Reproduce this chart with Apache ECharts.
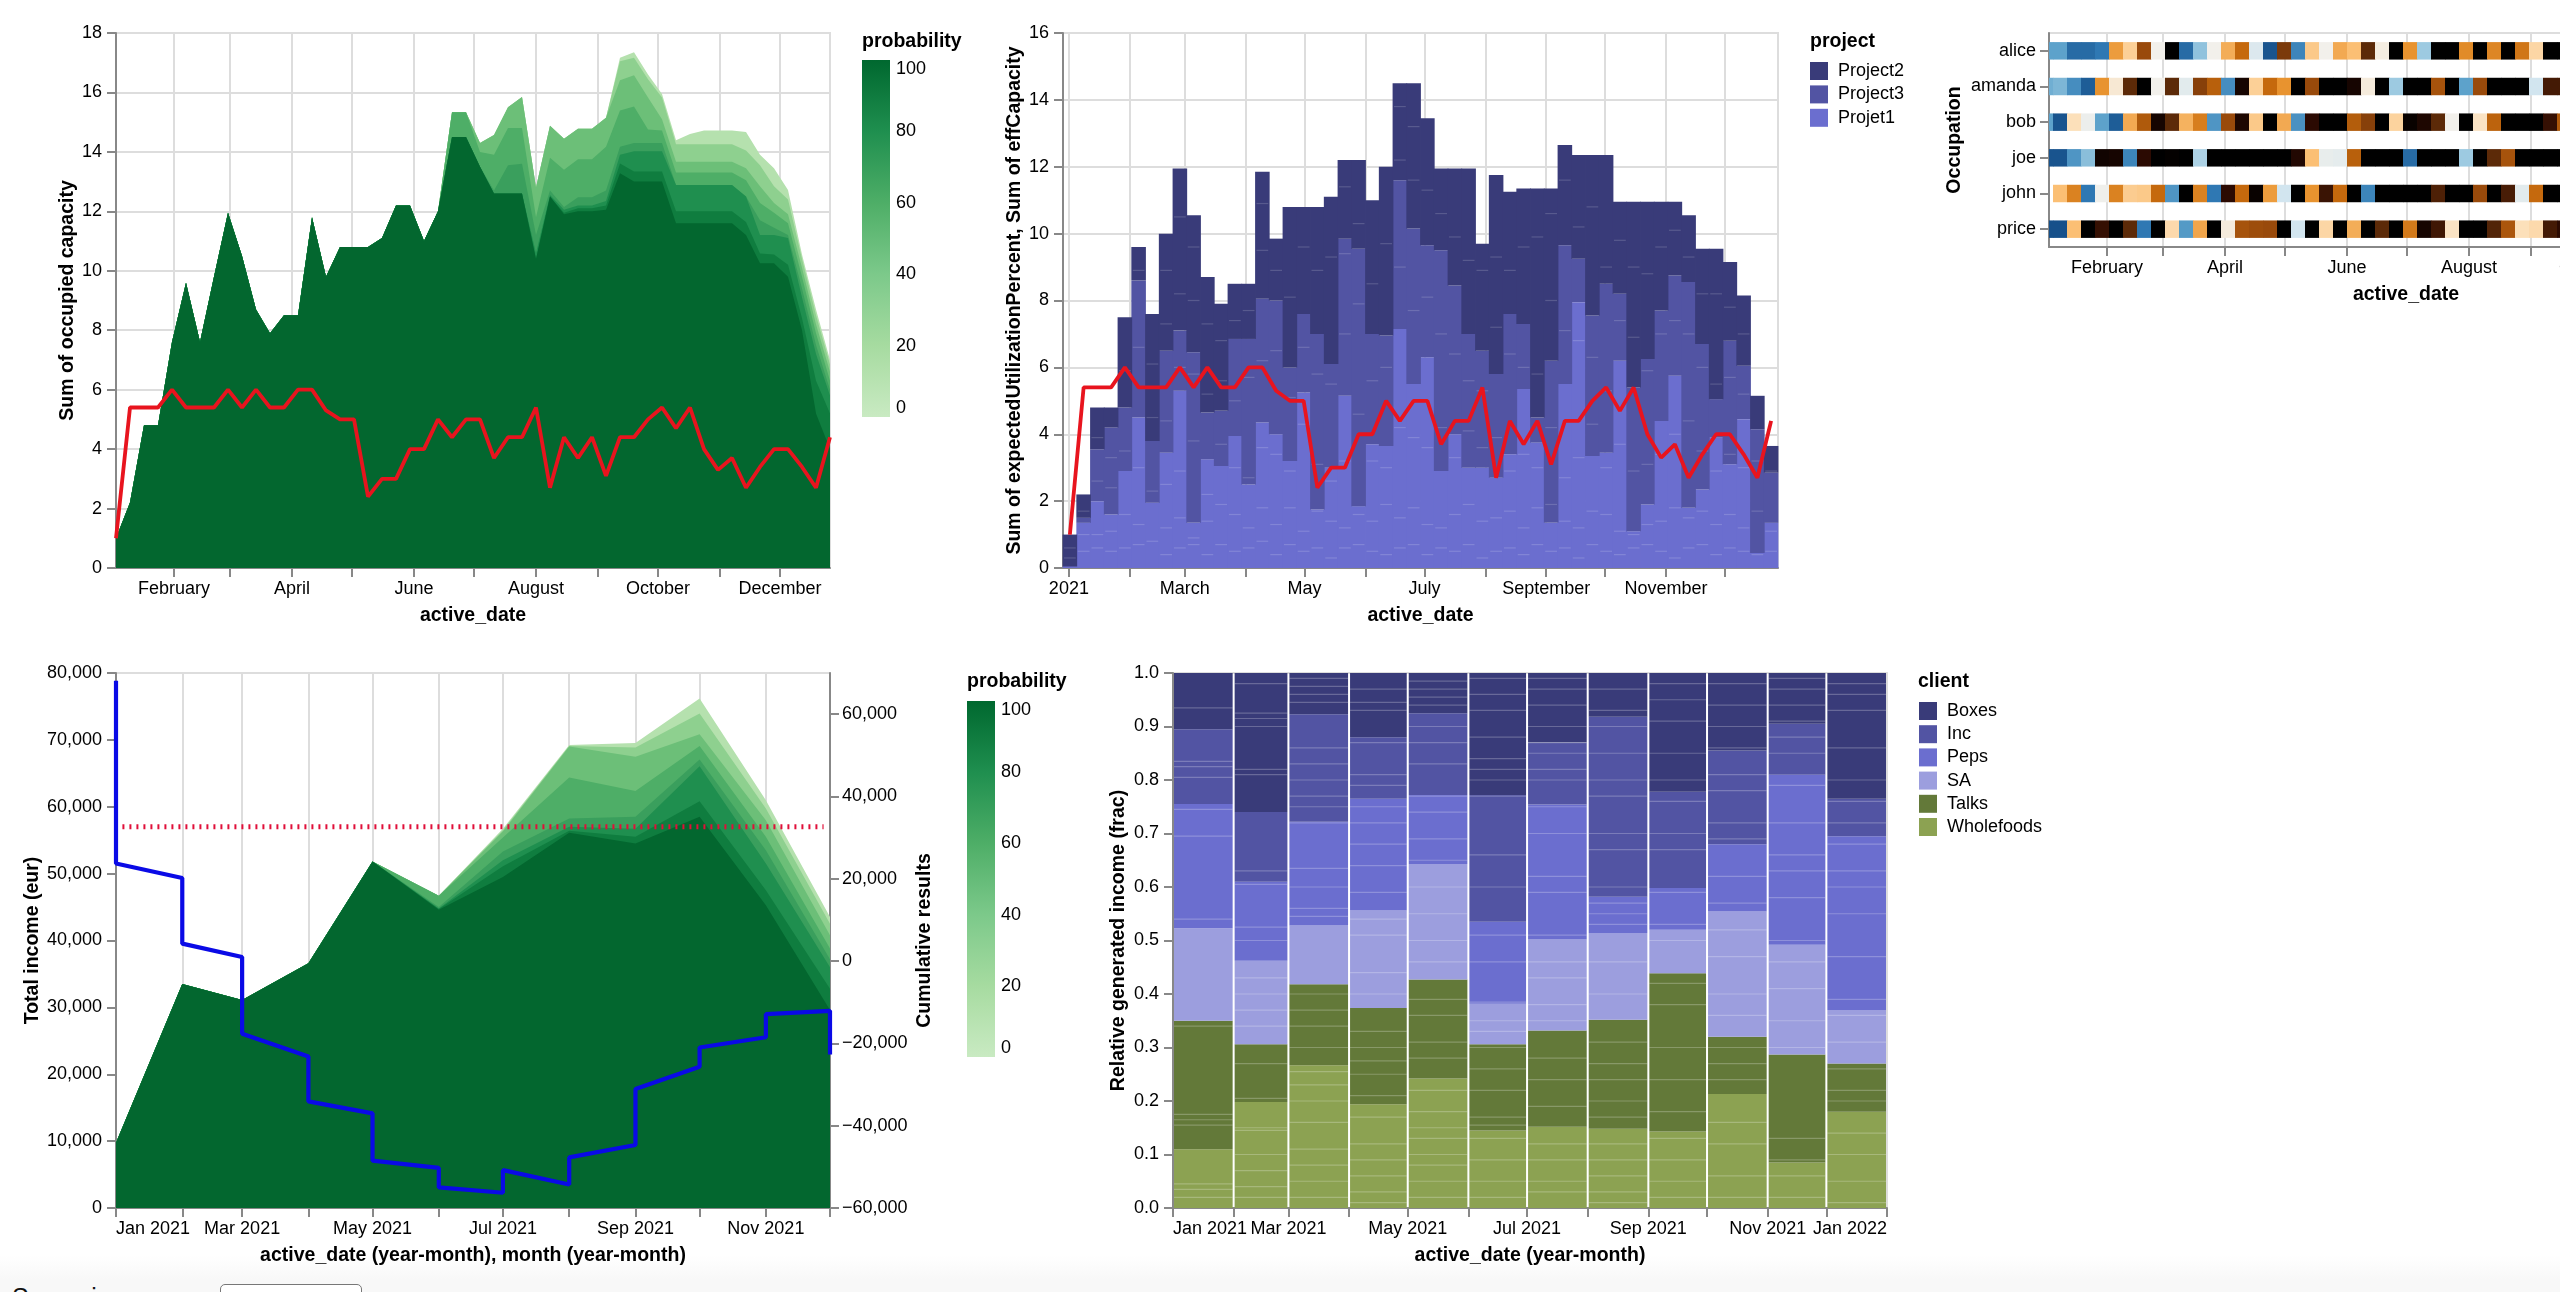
<!DOCTYPE html>
<html>
<head>
<meta charset="UTF-8">
<title>capacity dashboard</title>
<script src="https://cdn.jsdelivr.net/npm/echarts@6/dist/echarts.min.js"></script>
<style>
    html, body { margin: 0; background: #fff; overflow: hidden; font-family: "Liberation Sans", sans-serif; }
    #main { position: absolute; left: 0; top: 0; width: 2560px; height: 1292px; }
    #footer { position: absolute; left: 0; top: 1255px; width: 2560px; height: 37px; overflow: hidden;
        background: linear-gradient(#fff, #f8f8f8 24px); }
    #footer span { position: absolute; left: 12px; top: 28px; font-size: 25px; color: #111; }
    #footer div { position: absolute; left: 220px; top: 29px; width: 140px; height: 40px; border: 1.5px solid #777;
        border-radius: 5px; background: #fff; font-size: 23px; line-height: 40px; text-indent: 12px; }
</style>
</head>
<body>
<div id="footer"><span>Scenario name:</span><div>Confirmed</div></div>
<div id="main"></div>
<script>
// weekly sums
var redLine = [1.0,5.4,5.4,5.4,6.0,5.4,5.4,5.4,6.0,5.4,6.0,5.4,5.4,6.0,6.0,5.3,5.0,5.0,2.4,3.0,3.0,4.0,4.0,5.0,4.4,5.0,5.0,3.7,4.4,4.4,5.4,2.7,4.4,3.7,4.4,3.1,4.4,4.4,5.0,5.4,4.7,5.4,4.0,3.3,3.7,2.7,3.4,4.0,4.0,3.4,2.7,4.4];

// occupied capacity: shared first 24 weeks, then one tail per probability layer
var occHead = [1.0,2.2,4.8,4.8,7.6,9.6,7.6,9.8,11.95,10.5,8.7,7.9,8.5,8.5,11.8,9.8,10.8,10.8,10.8,11.1,12.2,12.2,11.0,12.0];
var occB1 = [15.33,15.33,14.3,14.57,15.5,15.85,12.8,14.88,14.44,14.78,14.78,15.15,17.17,17.35,16.6,15.95,14.39,14.6,14.72,14.72,14.72,14.67,13.9,13.45,12.72,10.55,8.7,7.0];
var occB2 = [15.33,15.33,14.3,14.57,15.5,15.85,12.8,14.88,14.44,14.78,14.78,15.15,17.05,17.17,16.44,15.83,14.26,14.26,14.26,14.26,14.26,14.05,13.55,12.84,12.4,10.4,8.5,6.85];
var occB3 = [15.33,15.33,14.3,14.57,15.5,15.85,12.8,14.88,14.44,14.78,14.78,15.15,16.41,16.58,15.83,15.1,13.67,13.67,13.67,13.67,13.67,13.45,12.84,12.28,11.9,10.1,8.2,6.6];
var occB4 = [15.33,15.33,14.0,13.9,14.8,14.8,11.8,13.8,13.4,13.75,13.75,14.17,15.39,15.53,14.75,14.72,13.31,13.31,13.31,13.31,13.31,13.05,12.28,11.95,11.6,9.8,7.9,6.3];
var occB5 = [14.5,14.5,13.5,12.7,13.55,13.6,11.2,12.7,12.15,12.47,12.47,12.7,14.17,14.3,14.3,14.3,12.89,12.89,12.89,12.89,12.89,12.5,11.7,11.45,11.2,9.4,7.5,6.0];
var occB6 = [14.5,14.5,13.5,12.6,12.6,12.6,10.6,12.55,12.05,12.2,12.2,12.35,13.9,14.02,14.02,14.02,12.89,12.89,12.89,12.89,12.89,12.5,11.2,11.2,11.1,9.1,7.2,5.8];
var occB7 = [14.5,14.5,13.5,12.6,12.6,12.6,10.4,12.5,11.95,12.1,12.1,12.2,13.61,13.34,13.34,13.34,12.0,12.0,12.0,12.0,12.0,11.64,10.58,10.55,10.2,8.4,6.3,5.2];
var occB8 = [14.5,14.5,13.5,12.6,12.6,12.6,10.4,12.5,11.9,12.0,12.0,12.05,13.28,13.0,13.0,13.0,11.6,11.6,11.6,11.6,11.6,11.2,10.25,10.25,9.8,8.0,5.2,4.0];

// income per month, one array per probability layer
var incomeHead = [9750,33500,31100,36600,51800];
var incB1 = [46700,56700,69250,69550,76170,60980,43500];
var incB2 = [46700,56500,69100,68850,73940,59730,42500];
var incB3 = [46700,56300,69000,67460,70850,58000,40800];
var incB4 = [46700,55400,64380,62370,69100,55500,38800];
var incB5 = [45000,53300,58250,58490,67060,53500,37200];
var incB6 = [44800,52000,57000,56700,66060,51500,36000];
var incB7 = [44700,51100,56400,55500,60830,47500,32800];
var incB8 = [44600,49500,56100,54500,58490,45280,29600];
var budgetRule = 57000;
// cumulative result: value where each month starts and ends
var cumulStart = [68100,20200,1000,-23200,-37000,-50250,-56300,-54300,-44700,-25700,-18500,-12100];
var cumulEnd = [23700,4240,-17660,-34100,-48500,-55000,-50800,-47700,-31100,-21000,-12900,-22700];

// stacked weekly totals for the second chart (tops of each project)
var weekTotal = [1.0,2.2,4.8,4.8,7.5,9.6,7.6,10.0,11.95,10.55,8.7,7.9,8.5,8.5,11.85,9.85,10.8,10.8,10.8,11.1,12.2,12.2,11.0,12.0,14.5,14.5,13.45,11.95,11.95,11.95,9.7,11.75,11.25,11.35,11.35,11.35,12.65,12.35,12.35,12.35,10.95,10.95,10.95,10.95,10.95,10.55,9.55,9.55,9.15,8.15,5.15,3.65];
var weekTopMid = [0.06,1.5,3.55,4.2,4.8,8.6,3.8,6.5,7.1,6.45,4.65,4.7,6.85,6.85,8.05,8.0,6.0,7.6,7.0,6.1,9.85,9.55,7.0,6.95,11.6,10.15,9.65,9.5,8.45,7.0,6.5,5.8,7.6,7.3,4.5,6.2,9.65,9.25,7.55,8.5,8.2,5.4,6.25,7.7,8.75,8.55,6.7,5.05,6.8,6.05,4.15,2.85];
var weekTopLight = [0.03,1.35,2.0,1.6,2.9,4.5,1.95,3.45,5.3,1.35,3.25,3.05,3.95,2.5,4.35,4.0,3.2,5.25,1.75,3.0,5.15,1.85,3.7,3.65,7.15,5.5,6.3,2.9,4.0,3.0,3.0,2.7,3.4,5.35,3.75,1.35,5.5,7.95,3.35,3.45,6.2,1.1,1.9,4.4,5.75,1.8,2.35,3.9,3.1,4.45,0.45,1.35];
// faint seams between the small stacked rows
var weekSeams = [[.3,.6],[.5,1.0,1.7],[.6,1.0,2.6,3.9],[.5,1.1,2.4,3.3],[.6,1.6,3.5,5.9],[.7,1.3,3.0,6.6,8.9],[.8,2.3,4.5,6.1],[.4,1.2,2.5,4.4,7.3,8.9],[.6,1.5,2.9,6.0,8.2,10.5],[.7,.9,3.8,5.8,8.0,9.6],[.4,1.4,2.2,5.2,7.3],[.7,1.9,3.7,5.6,6.8],[.5,1.6,3.0,5.0,7.4],[.6,1.2,2.7,5.7,7.7],[.8,1.8,3.6,6.2,9.5,10.9],[.4,1.3,3.4,6.5,8.9],[.7,1.8,2.9,5.1,8.1],[.5,1.1,4.3,6.6,9.6],[.6,1.7,3.1,5.8,8.9],[.3,1.4,2.6,5.5,9.3],[.6,1.2,3.2,7.0,9.4,11.4],[.7,1.6,4.6,7.9,10.3],[.5,1.4,3.2,5.6,8.5],[.4,1.9,3.0,6.0,9.7],[.6,1.5,4.2,9.0,12.2,13.8],[.7,1.8,3.9,7.7,11.6,13.2],[.4,1.3,3.6,8.1,11.3],[.6,1.2,4.2,7.0,10.6],[.5,1.6,3.3,6.4,9.9],[.7,1.9,4.1,5.6,9.2],[.3,1.4,3.6,5.3,8.9],[.5,1.5,3.9,7.2,9.3],[.6,1.7,2.9,6.4,8.9],[.4,1.2,3.4,6.0,9.6],[.7,1.8,3.0,5.8,9.9],[.5,1.9,4.2,8.0,10.6],[.6,1.4,2.7,7.1,11.6],[.3,1.2,3.3,6.8,10.2],[.7,1.7,4.3,6.3,10.8],[.5,1.6,3.0,5.3,9.0],[.4,1.1,3.7,7.4,9.8],[.6,1.0,2.9,6.9,9.0],[.7,1.3,3.1,5.9,8.8],[.5,1.4,3.4,7.0,9.6],[.3,1.8,4.0,7.4,10.1],[.6,1.5,4.4,7.0,9.3],[.7,1.7,3.5,6.0,8.2],[.4,1.3,2.9,5.5,8.2],[.6,1.6,3.4,5.7,7.8],[.5,1.2,3.0,5.2,7.0],[.4,1.7,3.2],[.5,1.1,2.9]];

// occupation cells, colour level per week (the row runs on past the page edge)
var occupations = ['alice','amanda','bob','joe','john','price'];
var cellsAlice = [2,2,.7,.7,1,7.8,6.5,10,5,13,.7,2.8,5,7.4,9,4.3,.2,10.5,1.3,6.7,5,7.5,7,11,5.2,13,8,3,13,13,8.2,13,8.3,13,8.7,6.3,13,13];
var cellsAmanda = [2.3,2.5,1.5,.4,8,5.5,11,13,5,11,4.5,10.3,9.3,1.5,12.5,6.5,9,8,13,10,13,13,12.5,5.3,13,3,13,13,9.7,13,2,10,13,13,13,4,11.5,11.5];
var cellsBob = [2,.2,6,4.8,2,.4,7.5,9.5,12.5,11,7.3,8.5,1.7,10,12.3,6.7,13,7.5,1.6,12,13,13,9.4,10.3,13,6.4,12.8,12.3,11,5,13,5.8,9.2,13,13,13,11.8,9.5];
var cellsJoe = [.2,.2,1.7,2.7,12.6,12.5,1.3,12,13,12.9,13,3.3,13,13,13,13,13,13,12.2,7,4.7,4.6,9.3,13,13,13,.7,13,13,13,3,13,11,9.7,13,13,13,13];
var cellsJohn = [null,7,8.4,1,4.9,8.4,6.6,6.7,9,1.7,13,8.4,1,12,9,12.8,7.8,4,13,8,11.7,9,13,1.3,13,13,13,13,11.3,13,13,10,13,11.4,4.5,9,13,13];
var cellsPrice = [.1,.1,7,13,11.8,13,11,1,13,6.2,1.8,7.6,13,5.3,9.7,9.9,10,13,4,13,6.3,13,7.4,13,11,13,8.6,12.5,11.6,5.8,13,13,11.2,9.6,6,6.2,11.5,12];
var cellColors = ['#134b85','#2f78b3','#5da2cb','#9dcae1','#d2e5ef','#f2f0eb','#fce0ba','#fbbf74','#e8932f','#c5690d','#994a0b','#5c2a08','#2b0a02','#000000'];

// generated income per month: top of each client
var clientNames = ['Wholefoods','Talks','SA','Peps','Inc','Boxes'];
var clientColors = ['#8ca252','#637939','#9c9ede','#6b6ecf','#5254a3','#393b79'];
var topWholefoods = [.11,.198,.267,.194,.242,.145,.152,.148,.143,.213,.085,.18];
var topTalks = [.35,.306,.418,.374,.427,.306,.332,.352,.439,.32,.287,.27];
var topSA = [.523,.462,.528,.556,.643,.382,.502,.514,.52,.554,.492,.37];
var topPeps = [.755,.61,.722,.765,.772,.535,.754,.582,.598,.68,.81,.695];
var topInc = [.895,.74,.923,.88,.925,.772,.87,.918,.778,.855,.905,.765];
var monthSeams = [
    [.02,.035,.045,.155,.165,.175,.34,.54,.695,.745,.805,.825,.835,.935],
    [.02,.04,.07,.1,.145,.15,.205,.27,.34,.37,.4,.43,.5,.525,.605,.63,.81,.82,.9,.915,.925,.98],
    [.02,.05,.08,.11,.16,.2,.23,.255,.3,.34,.37,.4,.545,.56,.6,.635,.72,.75,.77,.8,.83,.86,.945,.96,.975,.99],
    [.01,.03,.06,.09,.12,.17,.21,.25,.275,.3,.33,.4,.44,.51,.54,.59,.64,.68,.72,.75,.79,.81,.87,.93,.945,.97],
    [.02,.05,.08,.1,.13,.15,.18,.22,.28,.31,.36,.39,.46,.5,.55,.6,.65,.69,.74,.77,.83,.87,.9,.94,.955,.97,.985],
    [.02,.05,.09,.13,.155,.17,.22,.26,.3,.33,.35,.385,.46,.51,.6,.66,.77,.8,.82,.84,.88,.93,.96,.99],
    [.03,.05,.09,.12,.19,.24,.28,.35,.38,.43,.46,.51,.59,.62,.7,.75,.8,.82,.85,.87,.9,.94,.97,.99],
    [.01,.03,.06,.09,.12,.17,.2,.24,.27,.31,.4,.46,.53,.55,.57,.6,.67,.7,.77,.8,.85,.9,.93,.97],
    [.02,.05,.09,.13,.18,.24,.3,.38,.42,.5,.53,.59,.67,.7,.76,.8,.85,.91,.95,.98],
    [.02,.06,.12,.16,.24,.27,.3,.36,.4,.47,.52,.57,.62,.69,.72,.78,.81,.86,.9,.94,.98],
    [.02,.06,.09,.13,.3,.35,.41,.46,.5,.58,.63,.66,.72,.79,.85,.88,.91,.94,.97,.99],
    [.01,.05,.1,.14,.2,.22,.26,.31,.36,.39,.47,.55,.6,.63,.68,.72,.76,.8,.86,.93,.96,.98]
];

var monthNames = ['January','February','March','April','May','June','July','August','September','October','November','December'];
var monthShort = ['Jan','Feb','Mar','Apr','May','Jun','Jul','Aug','Sep','Oct','Nov','Dec'];
var legendTicks = [0,20,40,60,80,100];
var layerColors = ['#b5e1ae','#8ed08f','#6cbf78','#4eae67','#3a9f5d','#1f8f4f','#0f7d3f','#03672f'];

var FONT = '"Liberation Sans", Arial, sans-serif';
var DAY = 864e5;
var weekStart = Date.UTC(2021, 0, 3);
var barStart = Date.UTC(2020, 11, 29);
var cellStart = Date.UTC(2020, 11, 29);

function month(m) { return Date.UTC(2021, m, 1); }
function range(a, b) { var r = []; for (var i = a; i <= b; i++) r.push(month(i)); return r; }
var axisGrey = { color: '#888', width: 2 };

function labelStyle() { return { fontFamily: FONT, fontSize: 18, color: '#000' }; }
function nameStyle() { return { fontFamily: FONT, fontSize: 19.5, fontWeight: 'bold', color: '#000' }; }

// dates are kept as ms on a value axis, month ticks come from customValues
function timeAxis(grid, min, max, name, ticks, labels, fmt, extra) {
    return Object.assign({
        type: 'value', gridIndex: grid, min: min, max: max, name: name, nameLocation: 'middle', nameGap: 38,
        nameTextStyle: nameStyle(),
        axisLine: { show: true, onZero: false, lineStyle: axisGrey },
        axisTick: { show: true, length: 9, lineStyle: axisGrey, customValues: ticks },
        axisLabel: Object.assign(labelStyle(), { margin: 12, customValues: labels, formatter: fmt, hideOverlap: false }),
        splitLine: { show: true, lineStyle: { color: '#ddd', width: 2 } }
    }, extra || {});
}
function valAxis(grid, min, max, interval, name, gap, extra) {
    return Object.assign({
        type: 'value', gridIndex: grid, min: min, max: max, interval: interval, name: name, nameLocation: 'middle', nameGap: gap,
        nameTextStyle: nameStyle(),
        axisLine: { show: true, onZero: false, lineStyle: axisGrey },
        axisTick: { show: true, length: 9, lineStyle: axisGrey },
        axisLabel: Object.assign(labelStyle(), { margin: 14 }),
        splitLine: { show: true, lineStyle: { color: '#ddd', width: 2 } }
    }, extra || {});
}
function legendAxisY(grid) {
    return {
        type: 'value', gridIndex: grid, min: legendTicks[0], max: legendTicks[legendTicks.length - 1], interval: 20, position: 'right',
        axisLine: { show: false }, axisTick: { show: false }, splitLine: { show: false },
        axisLabel: Object.assign(labelStyle(), { margin: 6, verticalAlignMinLabel: 'bottom', verticalAlignMaxLabel: 'top' })
    };
}
function legendAxisX(grid) { return { type: 'category', gridIndex: grid, data: ['p'], show: false }; }
function legendBar(ax) {
    return {
        type: 'bar', xAxisIndex: ax.x, yAxisIndex: ax.y, data: [100], barWidth: '100%', silent: true,
        itemStyle: { color: new echarts.graphic.LinearGradient(0, 0, 0, 1, [
            { offset: 0, color: '#00682f' }, { offset: .2, color: '#1f8f4f' }, { offset: .4, color: '#4eae67' },
            { offset: .6, color: '#7cc98a' }, { offset: .8, color: '#a6dba0' }, { offset: 1, color: '#c9eac2' }]) }
    };
}
function areaLayer(ax, points, color) {
    return {
        type: 'line', xAxisIndex: ax, yAxisIndex: ax === 3 ? 3 : 0, data: points, showSymbol: false, symbol: 'none', silent: true,
        lineStyle: { width: 0 }, areaStyle: { color: color, opacity: 1 }
    };
}
// one stacked block per time span: [start, end, low, high]
function spanSeries(name, ax, yAx, data, color, gap) {
    return {
        name: name, type: 'custom', xAxisIndex: ax, yAxisIndex: yAx, data: data, silent: true, z: 2,
        itemStyle: { color: color }, encode: { x: [0, 1], y: [2, 3] },
        renderItem: function (params, api) {
            var a = api.coord([api.value(0), api.value(3)]);
            var b = api.coord([api.value(1), api.value(2)]);
            return { type: 'rect', shape: { x: a[0] + gap, y: a[1], width: b[0] - a[0] - 2 * gap, height: b[1] - a[1] }, style: { fill: color } };
        }
    };
}

var weeks = redLine.map(function (v, i) { return weekStart + i * 7 * DAY; });
var barMids = redLine.map(function (v, i) { return barStart + (i + .5) * 7 * DAY; });
var incomeMonths = range(0, 11);

var occLayers = [occB1, occB2, occB3, occB4, occB5, occB6, occB7, occB8].map(function (tail, i) {
    var pts = occHead.concat(tail).map(function (v, k) { return [weeks[k], v]; });
    return areaLayer(0, pts, layerColors[i]);
});
var incLayers = [incB1, incB2, incB3, incB4, incB5, incB6, incB7, incB8].map(function (tail, i) {
    var pts = incomeHead.concat(tail).map(function (v, k) { return [incomeMonths[k], v]; });
    return areaLayer(3, pts, layerColors[i]);
});

function weekSpans(lows, highs) {
    return highs.map(function (v, i) { return [barStart + i * 7 * DAY, barStart + (i + 1) * 7 * DAY, lows ? lows[i] : 0, v]; });
}
// slight overlap so no light seam shows between neighbouring weeks
var projectSeries = [
    spanSeries('Projet1', 1, 1, weekSpans(null, weekTopLight), '#6b6ecf', -.4),
    spanSeries('Project3', 1, 1, weekSpans(weekTopLight, weekTopMid), '#5254a3', -.4),
    spanSeries('Project2', 1, 1, weekSpans(weekTopMid, weekTotal), '#393b79', -.4)
];

var weekSeamData = [];
weekSeams.forEach(function (list, k) {
    list.forEach(function (v) { if (v < weekTotal[k]) weekSeamData.push([barMids[k] - 3.5 * DAY, barMids[k] + 3.5 * DAY, v]); });
});
var monthSeamData = [];
monthSeams.forEach(function (list, m) {
    list.forEach(function (v) { monthSeamData.push([month(m), month(m + 1), v]); });
});

function seamSeries(ax, yAx, data, alpha) {
    return { type: 'custom', xAxisIndex: ax, yAxisIndex: yAx, data: data, silent: true, z: 3, encode: { x: [0, 1], y: 2 },
        renderItem: function (params, api) {
            var a = api.coord([api.value(0), api.value(2)]);
            var b = api.coord([api.value(1), api.value(2)]);
            return { type: 'rect', shape: { x: a[0] + 1, y: a[1] - .6, width: b[0] - a[0] - 2, height: 1.2 },
                style: { fill: 'rgba(255,255,255,' + alpha + ')' }, silent: true };
        } };
}

// monthly client rects
var clientTops = [topWholefoods, topTalks, topSA, topPeps, topInc, topInc.map(function () { return 1; })];
var clientSeries = clientNames.map(function (name, c) {
    var data = clientTops[c].map(function (top, m) { return [month(m), month(m + 1), c ? clientTops[c - 1][m] : 0, top]; });
    return spanSeries(name, 4, 5, data, clientColors[c], 1);
});

// occupation heat cells
var cellRows = [cellsAlice, cellsAmanda, cellsBob, cellsJoe, cellsJohn, cellsPrice];
var cellData = [];
cellRows.forEach(function (row, r) {
    row.forEach(function (v, k) {
        if (v !== null) cellData.push([cellStart + k * 7 * DAY, cellStart + (k + 1) * 7 * DAY, r, v]);
    });
});
var cellSeries = {
    type: 'custom', xAxisIndex: 2, yAxisIndex: 2, data: cellData, silent: true, encode: { x: [0, 1], y: 2 },
    renderItem: function (params, api) {
        var a = api.coord([api.value(0), api.value(2)]);
        var b = api.coord([api.value(1), api.value(2)]);
        var h = api.size([0, 1])[1] * .49;
        var rect = echarts.graphic.clipRectByRect({ x: a[0], y: a[1] - h / 2, width: b[0] - a[0] + .4, height: h }, params.coordSys);
        return rect && { type: 'rect', shape: rect, style: { fill: api.visual('color') } };
    }
};

// cumulative result path
var cumulPath = [];
incomeMonths.forEach(function (m, i) {
    cumulPath.push([m, cumulStart[i]]);
    cumulPath.push([m, cumulEnd[i]]);
});

var occTicks = range(1, 11);
var occLabels = [1, 3, 5, 7, 9, 11].map(month);
var shortLabel = function (v) { var d = new Date(v); return monthShort[d.getUTCMonth()] + ' ' + d.getUTCFullYear(); };
var longLabel = function (v) { return monthNames[new Date(v).getUTCMonth()]; };
var yearFirst = function (v) { var d = new Date(v); return d.getUTCMonth() === 0 ? String(d.getUTCFullYear()) : monthNames[d.getUTCMonth()]; };
var rightTicks = [-60000, -40000, -20000, 0, 20000, 40000, 60000];

var allSeries = [].concat(
    occLayers,
    [{ type: 'line', xAxisIndex: 0, yAxisIndex: 0, data: redLine.map(function (v, i) { return [weeks[i], v]; }), symbol: 'none', silent: true, lineStyle: { color: '#e8141e', width: 3.8 }, z: 5 }],
    projectSeries,
    [seamSeries(1, 1, weekSeamData, .16)],
    [{ type: 'line', xAxisIndex: 1, yAxisIndex: 1, data: redLine.map(function (v, i) { return [barMids[i], v]; }), symbol: 'none', silent: true, lineStyle: { color: '#e8141e', width: 3.8 }, z: 5 }],
    [cellSeries],
    incLayers,
    [{ type: 'line', xAxisIndex: 3, yAxisIndex: 3, data: [[Date.UTC(2021, 0, 4), budgetRule], [Date.UTC(2021, 10, 28), budgetRule]], symbol: 'none', silent: true, lineStyle: { color: '#e0103a', width: 5, type: [2, 5], cap: 'butt' }, z: 5 }],
    [{ type: 'line', xAxisIndex: 3, yAxisIndex: 4, data: cumulPath, symbol: 'none', silent: true, lineStyle: { color: '#0a0ae6', width: 4.2 }, z: 6 }],
    clientSeries,
    [seamSeries(4, 5, monthSeamData, .24)],
    [legendBar({ x: 5, y: 6 }), legendBar({ x: 6, y: 7 })]
);

function gridBox(left, top, width, height, border) {
    var g = { left: left, top: top, width: width, height: height, outerBoundsMode: 'none' };
    if (border) { g.show = true; g.borderColor = '#ddd'; g.borderWidth = 2; }
    return g;
}
function legendText() { return Object.assign(labelStyle(), { padding: [0, 0, 0, 5] }); }

var option = {
    animation: false,
    textStyle: { fontFamily: FONT },
    title: [
        { text: 'probability', left: 862, top: 32, padding: 0, textStyle: nameStyle() },
        { text: 'project', left: 1810, top: 32, padding: 0, textStyle: nameStyle() },
        { text: 'probability', left: 967, top: 672, padding: 0, textStyle: nameStyle() },
        { text: 'client', left: 1918, top: 672, padding: 0, textStyle: nameStyle() }
    ],
    legend: [
        { data: ['Project2', 'Project3', 'Projet1'], left: 1810, top: 62, orient: 'vertical', padding: 0, icon: 'rect', itemWidth: 18, itemHeight: 18, itemGap: 5.4, selectedMode: false, textStyle: legendText() },
        { data: clientNames.slice().reverse(), left: 1919, top: 702, orient: 'vertical', padding: 0, icon: 'rect', itemWidth: 18, itemHeight: 18, itemGap: 5.2, selectedMode: false, textStyle: legendText() }
    ],
    grid: [
        gridBox(116, 33, 714, 535, true),
        gridBox(1063, 33, 715, 535, true),
        gridBox(2049, 33, 714, 214, true),
        gridBox(116, 673, 714, 535, true),
        gridBox(1173, 673, 714, 535, true),
        gridBox(862, 60, 28, 357),
        gridBox(967, 701, 28, 356)
    ],
    xAxis: [
        timeAxis(0, weekStart, weekStart + 357 * DAY, 'active_date', occTicks, occLabels, longLabel),
        timeAxis(1, barStart, barStart + 364 * DAY, 'active_date', range(0, 11), [0, 2, 4, 6, 8, 10].map(month), yearFirst),
        timeAxis(2, weekStart, weekStart + 357 * DAY, 'active_date', occTicks, occLabels, longLabel),
        timeAxis(3, month(0), month(11), 'active_date (year-month), month (year-month)', range(0, 11), [0, 2, 4, 6, 8, 10].map(month), shortLabel, { axisLabel: Object.assign(labelStyle(), { margin: 12, customValues: [0, 2, 4, 6, 8, 10].map(month), formatter: shortLabel, hideOverlap: false, alignMinLabel: 'left' }) }),
        timeAxis(4, month(0), month(12), 'active_date (year-month)', range(0, 12), [0, 2, 4, 6, 8, 10, 12].map(month), shortLabel, { splitLine: { show: false }, axisLabel: Object.assign(labelStyle(), { margin: 12, customValues: [0, 2, 4, 6, 8, 10, 12].map(month), formatter: shortLabel, hideOverlap: false, alignMinLabel: 'left', alignMaxLabel: 'right' }) }),
        legendAxisX(5),
        legendAxisX(6)
    ],
    yAxis: [
        valAxis(0, 0, 18, 2, 'Sum of occupied capacity', 38),
        valAxis(1, 0, 16, 2, 'Sum of expectedUtilizationPercent, Sum of effCapacity', 38),
        { type: 'category', gridIndex: 2, data: occupations, inverse: true, name: 'Occupation', nameLocation: 'middle', nameGap: 84, nameTextStyle: nameStyle(),
          axisLine: { show: true, lineStyle: axisGrey }, axisTick: { show: true, length: 9, alignWithLabel: true, lineStyle: axisGrey },
          axisLabel: Object.assign(labelStyle(), { margin: 13 }), splitLine: { show: false } },
        valAxis(3, 0, 80000, 10000, 'Total income (eur)', 73, { splitLine: { show: false } }),
        valAxis(3, -60000, 70000, 20000, 'Cumulative results', 85, {
            position: 'right', splitLine: { show: false },
            axisTick: { show: true, length: 9, lineStyle: axisGrey, customValues: rightTicks },
            axisLabel: Object.assign(labelStyle(), { margin: 12, customValues: rightTicks,
                formatter: function (v) { return (v < 0 ? '\u2212' : '') + echarts.format.addCommas(Math.abs(v)); } })
        }),
        valAxis(4, 0, 1, .1, 'Relative generated income (frac)', 44, { splitLine: { show: false }, axisLabel: Object.assign(labelStyle(), { margin: 14, formatter: function (v) { return v.toFixed(1); } }) }),
        legendAxisY(5),
        legendAxisY(6)
    ],
    series: allSeries,
    visualMap: [{
        show: false, type: 'continuous', min: 0, max: 13, dimension: 3, seriesIndex: allSeries.indexOf(cellSeries), inRange: { color: cellColors }
    }]
};

var myChart = echarts.init(document.getElementById('main'), null, { renderer: 'canvas', width: 2560, height: 1292 });
myChart.setOption(option);
</script>
</body>
</html>
